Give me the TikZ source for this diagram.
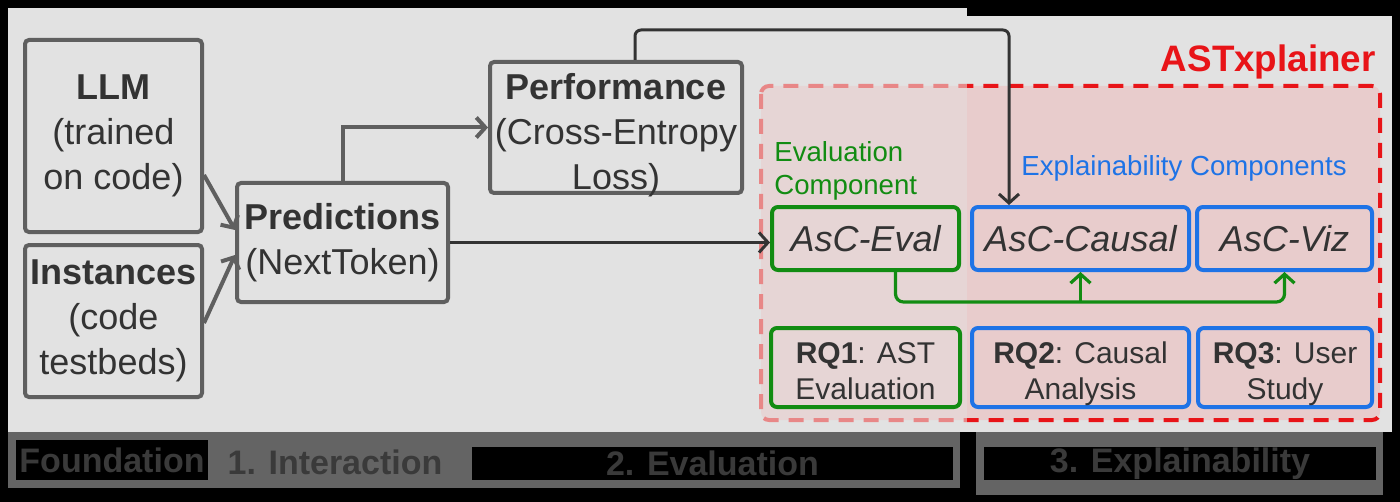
\documentclass[tikz,border=0pt]{standalone}
\usepackage{fontspec}
\setmainfont{Liberation Sans}
\usetikzlibrary{arrows.meta,calc}

\definecolor{panel}{RGB}{226,226,226}
\definecolor{band}{RGB}{100,100,100}
\definecolor{boxgray}{RGB}{95,95,95}
\definecolor{txt}{RGB}{51,51,51}
\definecolor{tagtxt}{RGB}{58,58,58}
\definecolor{astred}{RGB}{232,20,24}
\definecolor{lightred}{RGB}{232,135,135}
\definecolor{pinkL}{RGB}{230,213,213}
\definecolor{pinkR}{RGB}{232,204,204}
\definecolor{evgreen}{RGB}{18,140,18}
\definecolor{exblue}{RGB}{30,115,230}

\begin{document}
\begin{tikzpicture}[x=0.5pt,y=-0.5pt,
    >={Straight Barb[length=4.5pt,width=10pt]},
    box/.style={draw=boxgray,line width=2pt,rounded corners=2pt,text=txt,
      align=center,inner sep=0pt,font=\fontsize{18}{22.5}\selectfont},
    comp/.style={line width=2pt,rounded corners=3pt,text=txt,inner sep=0pt,
      minimum height=31.5pt,font=\fontsize{18}{22}\selectfont\itshape},
    rq/.style={line width=2pt,rounded corners=3pt,text=txt,align=center,inner sep=0pt,
      text depth=0pt,minimum height=39.5pt,font=\fontsize{15}{18}\selectfont},
    tag/.style={text=tagtxt,inner sep=0pt,font=\fontsize{17}{20}\selectfont\bfseries},
    grayarrow/.style={draw=boxgray,line width=2pt,->},
    darkarrow/.style={draw=txt,line width=1.5pt,->,rounded corners=3pt},
    greenline/.style={draw=evgreen,line width=1.6pt,rounded corners=4pt}]

    % background and panels
    \fill[black] (0,0) rectangle (1400,502);
    \useasboundingbox (0,0) rectangle (1400,502);
    \fill[panel] (8,8) rectangle (967,432);
    \fill[panel] (967,16) rectangle (1392,432);

    % ASTxplainer frame
    \begin{scope}
      \clip (0,0) rectangle (967,502);
      \fill[pinkL,rounded corners=4pt] (761,86) rectangle (1380,420);
      \draw[lightred,line width=2pt,dash pattern=on 7.5pt off 5pt,rounded corners=4pt]
        (761,86) rectangle (1380,420);
    \end{scope}
    \begin{scope}
      \clip (967,0) rectangle (1400,502);
      \fill[pinkR,rounded corners=4pt] (761,86) rectangle (1380,420);
      \draw[astred,line width=2pt,dash pattern=on 7.5pt off 5pt,rounded corners=4pt]
        (761,86) rectangle (1380,420);
    \end{scope}
    \node (astx) at (1376,62) [anchor=east,text=astred,inner sep=0pt,
      font=\fontsize{18.4}{20}\selectfont\bfseries] {ASTxplainer};

    % pipeline
    \node (llm) at (113.5,136) [box,minimum width=88.5pt,minimum height=96pt]
      {\textbf{LLM}\\(trained\\on code)};
    \node (inst) at (113.5,321) [box,minimum width=88.5pt,minimum height=76pt]
      {\textbf{Instances}\\(code\\testbeds)};
    \node (pred) at (342.5,242.5) [box,minimum width=105.5pt,minimum height=59.5pt]
      {\textbf{Predictions}\\(NextToken)};
    \node (perf) at (616,127.5) [box,text depth=0pt,minimum width=126pt,minimum height=65.5pt]
      {\rule{0pt}{17.5pt}\textbf{Performance}\\(Cross-Entropy\\Loss)};

    % components
    \node (evlab) at (774,171) [anchor=west,text=evgreen,align=left,inner sep=0pt,
      font=\fontsize{13.8}{16.5}\selectfont] {Evaluation\\Component};
    \node (exlab) at (1184,168) [text=exblue,inner sep=0pt,
      font=\fontsize{13.8}{16.5}\selectfont] {Explainability Components};
    \node (eval) at (865.5,238.5) [comp,draw=evgreen,minimum width=93.5pt] {AsC-Eval};
    \node (causal) at (1080.5,238.5) [comp,draw=exblue,minimum width=108.5pt] {AsC-Causal};
    \node (viz) at (1284.5,238.5) [comp,draw=exblue,minimum width=87.5pt] {AsC-Viz};
    \node (rq1) at (865.5,367.5) [rq,draw=evgreen,minimum width=94.5pt]
      {\rule{0pt}{14pt}\textbf{RQ1}: AST\\Evaluation};
    \node (rq2) at (1080.5,367.5) [rq,draw=exblue,minimum width=108.5pt]
      {\rule{0pt}{14pt}\textbf{RQ2}: Causal\\Analysis};
    \node (rq3) at (1285,367.5) [rq,draw=exblue,minimum width=87pt]
      {\rule{0pt}{14pt}\textbf{RQ3}: User\\Study};

    % connectors
    \draw[grayarrow] ($(llm.east)+(0,39)$) to ($(pred.west)+(0,-12.5)$);
    \draw[grayarrow] ($(inst.east)+(0,2)$) to ($(pred.west)+(0,12.5)$);
    \draw[grayarrow] (pred.north) |- (perf.west);
    \draw[darkarrow] (pred.east) to (pred.east -| eval.west);
    \draw[darkarrow] ($(perf.north)+(19,0)$) -- ++(0,-30) -| ($(causal.north west)+(39,0)$);

    \coordinate (bus) at ($(eval.south)+(30,30)$);
    \draw[greenline,->] ($(eval.south)+(30,0)$) -- (bus) -| (viz.south);
    \draw[greenline,->] (bus -| causal.south) -- (causal.south);

    % stage labels
    \fill[band] (8,432) rectangle (960,488);
    \fill[band] (976,432) rectangle (1383,495);
    \node (found) at (112,460) [tag,fill=black,minimum width=96pt,minimum height=20pt] {Foundation};
    \node (inter) at (335,462) [tag] {1. Interaction};
    \node (evstage) at (712.5,463.5) [tag,fill=black,minimum width=240.5pt,minimum height=16.5pt]
      {2. Evaluation};
    \node (exstage) at (1180,463.5) [tag,fill=black,minimum width=196pt,minimum height=16.5pt]
      {3. Explainability};
\end{tikzpicture}
\end{document}
